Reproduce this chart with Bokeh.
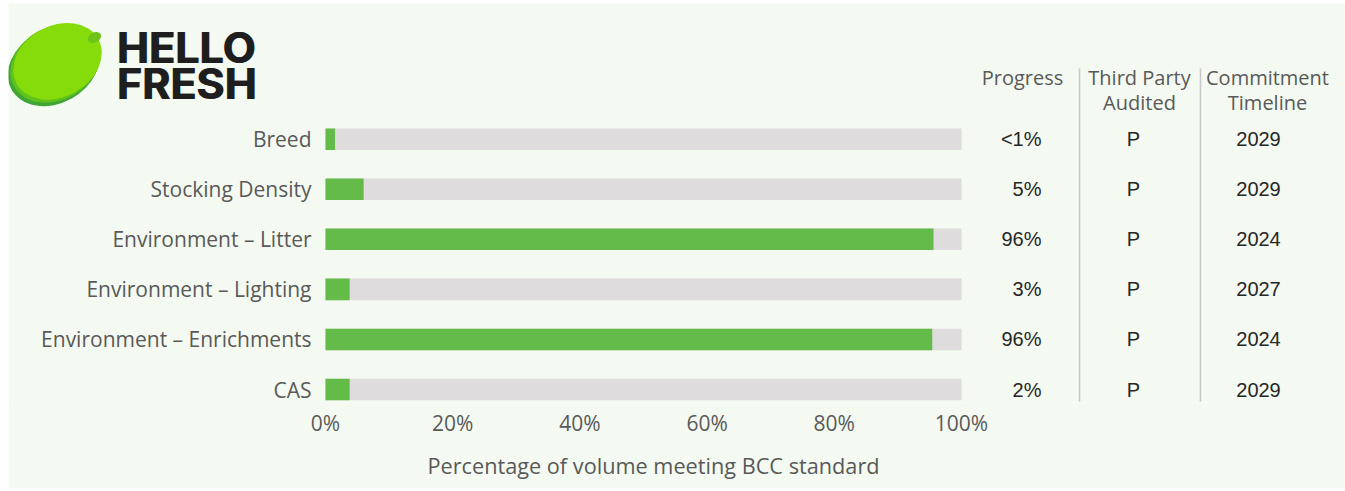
from bokeh.plotting import figure
from bokeh.models import Range1d, FixedTicker, ColumnDataSource, Title
from bokeh.core.properties import value
from bokeh.embed import file_html
from bokeh.resources import INLINE

# ---------------- data ----------------
categories = ["Breed", "Stocking Density", "Environment \u2013 Litter",
              "Environment \u2013 Lighting", "Environment \u2013 Enrichments", "CAS"]
progress = [1.5, 6.0, 95.6, 3.8, 95.4, 3.8]
progress_labels = ["<1%", "5%", "96%", "3%", "96%", "2%"]
audited = ["P", "P", "P", "P", "P", "P"]
timeline = ["2029", "2029", "2024", "2027", "2024", "2029"]
tick_values = [0, 20, 40, 60, 80, 100]
tick_labels = ["0%", "20%", "40%", "60%", "80%", "100%"]
axis_title = "Percentage of volume meeting BCC standard"
col_headers = [["Progress"], ["Third Party", "Audited"], ["Commitment", "Timeline"]]
logo_lines = ["HELLO", "FRESH"]

# ---------------- layout ----------------
ML, MT = 8, 3                 # page offset of the figure
W, H = 1337, 485
FRAME_BOTTOM_REF = 403
BORDER_BOTTOM = H - (FRAME_BOTTOM_REF - MT)
PX_PER_PCT = 6.36
ZERO_REF_X = 325
ROW0_REF_Y = 139
ROW_STEP = 50.2

def X(ref_x):
    return (ref_x - ZERO_REF_X) / PX_PER_PCT

def Y(ref_y):
    return (ROW0_REF_Y - ref_y) / ROW_STEP

x_range = Range1d(X(ML), X(ML + W))
y_range = Range1d(Y(FRAME_BOTTOM_REF), Y(MT))

BG = "#F4F9F1"
GREEN = "#65BB49"
GRAY = "#DEDCDC"
TXT = "#595959"
DARK = "#262626"
FONT = "Open Sans"
TFONT = "Liberation Sans"

p = figure(width=W, height=H, x_range=x_range, y_range=y_range,
           output_backend="svg", toolbar_location=None, y_axis_location=None,
           min_border_left=0, min_border_right=0, min_border_top=0,
           min_border_bottom=BORDER_BOTTOM)
p.margin = (MT, 0, 0, ML)
p.background_fill_color = BG
p.border_fill_color = BG
p.outline_line_color = None
p.xgrid.visible = False
p.ygrid.visible = False

rows = [-i for i in range(len(categories))]
src = ColumnDataSource(dict(y=rows, cat=categories, prog=progress,
                            plab=progress_labels, aud=audited, tl=timeline,
                            full=[100] * len(categories)))

# bars
p.hbar(y="y", left=0, right="full", height=0.43, source=src,
       fill_color=GRAY, line_color=None)
p.hbar(y="y", left=0, right="prog", height=0.43, source=src,
       fill_color=GREEN, line_color=None)

# category labels
p.text(x=X(311), y="y", text="cat", source=src, text_align="right",
       text_baseline="middle", text_font=value(FONT), text_font_size="21px",
       text_color=TXT)

# x axis
ax = p.xaxis[0]
ax.ticker = FixedTicker(ticks=tick_values)
ax.major_label_overrides = {v: l for v, l in zip(tick_values, tick_labels)}
ax.axis_line_color = None
ax.major_tick_line_color = None
ax.minor_tick_line_color = None
ax.major_label_standoff = 0
ax.major_label_text_font = FONT
ax.major_label_text_font_size = "21px"
ax.major_label_text_color = TXT

p.add_layout(Title(text=axis_title, align="left", offset=427 - ML, standoff=18,
                   text_font=FONT, text_font_size="21.7px", text_font_style="normal",
                   text_color=TXT), "below")

# table
for col, xr, align in (("plab", 1041, "right"), ("aud", 1133, "center"),
                       ("tl", 1258, "center")):
    p.text(x=X(xr), y="y", text=col, source=src, text_align=align,
           text_baseline="middle", text_font=value(TFONT), text_font_size="20px",
           text_color=DARK)

header_x = [X(1022), X(1139), X(1267)]
for hx, lines in zip(header_x, col_headers):
    for k, line in enumerate(lines):
        p.text(x=[hx], y=[Y(77 + 25 * k)], text=[line], text_align="center",
               text_baseline="middle", text_font=value(FONT),
               text_font_size="20px", text_color=TXT)

p.segment(x0=[X(1079), X(1200)], y0=[Y(68), Y(68)],
          x1=[X(1079), X(1200)], y1=[Y(402), Y(402)],
          line_color="#C8C8C8", line_width=1.5)

# logo
def blob(cx, cy, w, h, color, alpha=1.0):
    p.ellipse(x=[X(cx)], y=[Y(cy)], width=[w], height=[h], width_units="screen",
              height_units="screen", angle=0.5, fill_color=color,
              fill_alpha=alpha, line_color=None)

blob(18, 86, 15, 12, "#3A9E2E")
blob(53, 66, 96, 74, "#3FA533")
blob(55, 63, 95, 73, "#5FC21C")
blob(57, 61, 93, 71, "#86DC0A")
blob(94, 37, 14, 10, "#6CC31A")
for k, line in enumerate(logo_lines):
    for dx in (0.0, 0.16):
        p.text(x=[X(116) + dx], y=[Y(47 + 36 * k)], text=[line], text_align="left",
               text_baseline="middle", text_font=value("Inter"),
               text_font_style="bold", text_font_size="43px", text_color="#1E1E1E")

open("out.html", "w").write(file_html(p, INLINE))
